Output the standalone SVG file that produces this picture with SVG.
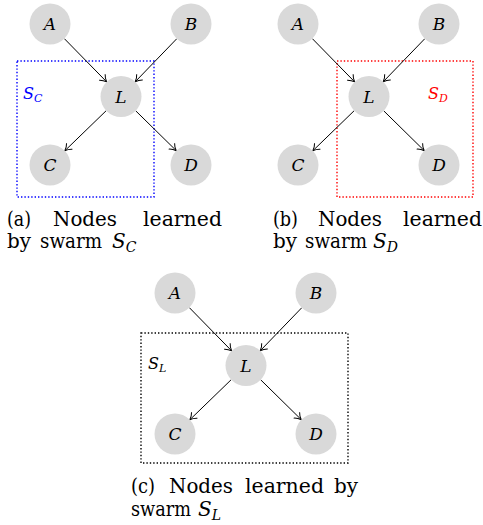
<svg xmlns="http://www.w3.org/2000/svg" width="483" height="525" viewBox="0 0 483 525">
<style>
.node circle{fill:#d9d9d9;stroke:none}
.node text{font-family:'DejaVu Serif',serif;font-style:italic;font-size:17px;fill:#000;text-anchor:middle}
.edge{stroke:#000;stroke-width:1;fill:none;marker-end:url(#arr)}
.box{fill:none;stroke-width:1.4;stroke-dasharray:1.4 2}
.cap text{font-family:'DejaVu Serif',serif;font-size:20px;fill:#000}
.it{font-style:italic}
.sl{font-family:'DejaVu Serif',serif;font-size:16px;font-style:italic}
</style>
<defs>
<marker id="arr" markerUnits="userSpaceOnUse" markerWidth="12" markerHeight="12" viewBox="-8 -6 10 12" refX="0" refY="0" orient="auto">
<path d="M-6.5,-4.2 C-4.5,-2 -1.5,-0.5 0,0 C-1.5,0.5 -4.5,2 -6.5,4.2" fill="none" stroke="#000" stroke-width="1"/>
</marker>
</defs>

<!-- boxes -->
<rect id="box-a" class="box" x="17" y="61" width="137" height="136" stroke="#0000ff"/>
<rect id="box-b" class="box" x="337" y="61" width="136" height="136" stroke="#ff0000"/>
<rect id="box-c" class="box" x="141" y="333" width="207" height="130" stroke="#000"/>

<text class="sl" x="23" y="99" fill="#0000ff">S<tspan font-size="11" dy="3">C</tspan></text>
<text class="sl" x="428" y="99" fill="#ff0000">S<tspan font-size="11" dy="3">D</tspan></text>
<text class="sl" x="148" y="369" fill="#000">S<tspan font-size="11" dy="3">L</tspan></text>

<!-- connectors -->
<g id="connectors">
<g id="conn-a">
<line class="edge" x1="64.3" y1="38.6" x2="106.7" y2="81.9"/>
<line class="edge" x1="176.8" y1="38.7" x2="135.2" y2="81.8"/>
<line class="edge" x1="106.2" y1="110.7" x2="64.8" y2="150.8"/>
<line class="edge" x1="135.7" y1="110.8" x2="176.3" y2="150.7"/>
</g>
<g id="conn-b" transform="translate(248,0)">
<line class="edge" x1="64.3" y1="38.6" x2="106.7" y2="81.9"/>
<line class="edge" x1="176.8" y1="38.7" x2="135.2" y2="81.8"/>
<line class="edge" x1="106.2" y1="110.7" x2="64.8" y2="150.8"/>
<line class="edge" x1="135.7" y1="110.8" x2="176.3" y2="150.7"/>
</g>
<g id="conn-c" transform="translate(125,269)">
<line class="edge" x1="64.3" y1="38.6" x2="106.7" y2="81.9"/>
<line class="edge" x1="176.8" y1="38.7" x2="135.2" y2="81.8"/>
<line class="edge" x1="106.2" y1="110.7" x2="64.8" y2="150.8"/>
<line class="edge" x1="135.7" y1="110.8" x2="176.3" y2="150.7"/>
</g>
</g>

<!-- panel a nodes -->
<g id="a-A" class="node"><circle cx="50" cy="24" r="20.5"/><text x="50" y="30">A</text></g>
<g id="a-B" class="node"><circle cx="191" cy="24" r="20.5"/><text x="191" y="30">B</text></g>
<g id="a-L" class="node"><circle cx="121" cy="96.5" r="20.5"/><text x="121" y="102.5">L</text></g>
<g id="a-C" class="node"><circle cx="50" cy="165" r="20.5"/><text x="50" y="171">C</text></g>
<g id="a-D" class="node"><circle cx="191" cy="165" r="20.5"/><text x="191" y="171">D</text></g>

<!-- panel b nodes -->
<g id="b-A" class="node"><circle cx="298" cy="24" r="20.5"/><text x="298" y="30">A</text></g>
<g id="b-B" class="node"><circle cx="439" cy="24" r="20.5"/><text x="439" y="30">B</text></g>
<g id="b-L" class="node"><circle cx="369" cy="96.5" r="20.5"/><text x="369" y="102.5">L</text></g>
<g id="b-C" class="node"><circle cx="298" cy="165" r="20.5"/><text x="298" y="171">C</text></g>
<g id="b-D" class="node"><circle cx="439" cy="165" r="20.5"/><text x="439" y="171">D</text></g>

<!-- panel c nodes -->
<g id="c-A" class="node"><circle cx="175" cy="293" r="20.5"/><text x="175" y="299">A</text></g>
<g id="c-B" class="node"><circle cx="316" cy="293" r="20.5"/><text x="316" y="299">B</text></g>
<g id="c-L" class="node"><circle cx="246" cy="365.5" r="20.5"/><text x="246" y="371.5">L</text></g>
<g id="c-C" class="node"><circle cx="175" cy="434" r="20.5"/><text x="175" y="440">C</text></g>
<g id="c-D" class="node"><circle cx="316" cy="434" r="20.5"/><text x="316" y="440">D</text></g>

<!-- captions -->
<g id="caption-a" class="cap">
<text x="7" y="226" textLength="24" lengthAdjust="spacingAndGlyphs">(a)</text>
<text x="53" y="226" textLength="64" lengthAdjust="spacingAndGlyphs">Nodes</text>
<text x="143" y="226" textLength="79" lengthAdjust="spacingAndGlyphs">learned</text>
<text x="7" y="248" textLength="24" lengthAdjust="spacingAndGlyphs">by</text>
<text x="40" y="248" textLength="62" lengthAdjust="spacingAndGlyphs">swarm</text>
<text x="112" y="248" class="it">S<tspan font-size="14" dy="4">C</tspan></text>
</g>
<g id="caption-b" class="cap">
<text x="273" y="226" textLength="25" lengthAdjust="spacingAndGlyphs">(b)</text>
<text x="318" y="226" textLength="64" lengthAdjust="spacingAndGlyphs">Nodes</text>
<text x="403" y="226" textLength="79" lengthAdjust="spacingAndGlyphs">learned</text>
<text x="273" y="248" textLength="24" lengthAdjust="spacingAndGlyphs">by</text>
<text x="305" y="248" textLength="62" lengthAdjust="spacingAndGlyphs">swarm</text>
<text x="373" y="248" class="it">S<tspan font-size="14" dy="4">D</tspan></text>
</g>
<g id="caption-c" class="cap">
<text x="131" y="493" textLength="24" lengthAdjust="spacingAndGlyphs">(c)</text>
<text x="169" y="493" textLength="64" lengthAdjust="spacingAndGlyphs">Nodes</text>
<text x="245" y="493" textLength="79" lengthAdjust="spacingAndGlyphs">learned</text>
<text x="334" y="493" textLength="24" lengthAdjust="spacingAndGlyphs">by</text>
<text x="131" y="516" textLength="60" lengthAdjust="spacingAndGlyphs">swarm</text>
<text x="198" y="516" class="it">S<tspan font-size="14" dy="4">L</tspan></text>
</g>
</svg>
